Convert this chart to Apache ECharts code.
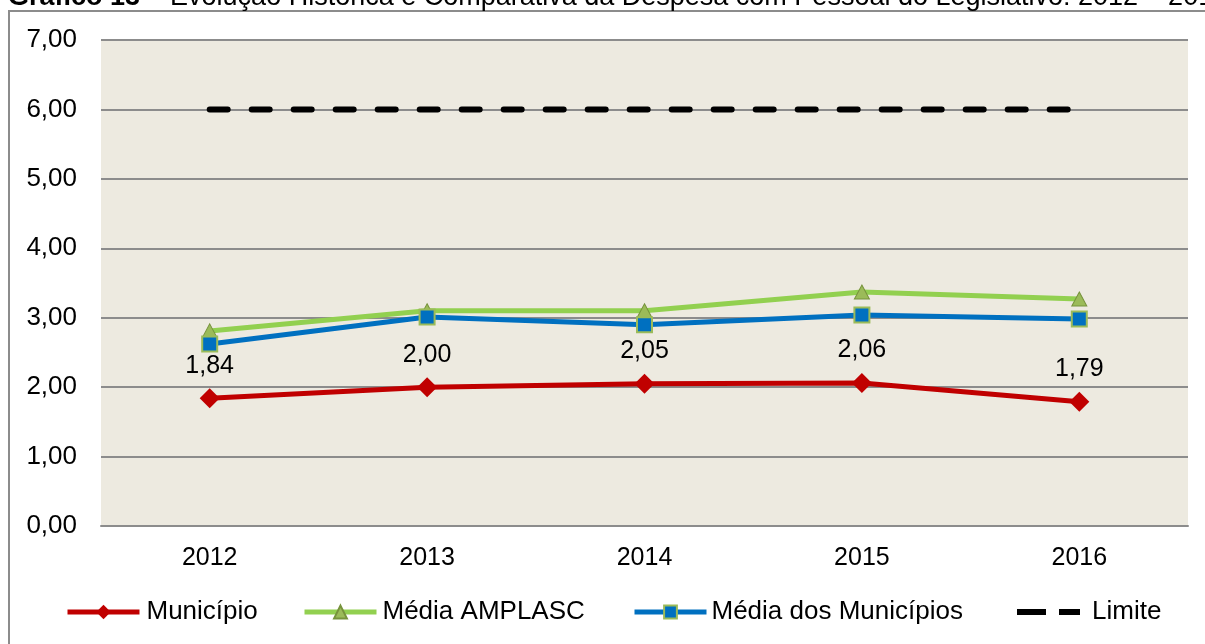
<!DOCTYPE html>
<html>
<head>
<meta charset="utf-8">
<script src="https://cdn.jsdelivr.net/npm/echarts@6/dist/echarts.min.js"></script>
<style>
html, body { margin: 0; padding: 0; background: #fff; }
#chart { width: 1205px; height: 644px; }
</style>
</head>
<body>
<div id="chart"></div>
<script>
var anos = ["2012", "2013", "2014", "2015", "2016"];
var municipio = [1.84, 2.00, 2.05, 2.06, 1.79];
var mediaAmplasc = [2.81, 3.10, 3.10, 3.37, 3.27];
var mediaMunicipios = [2.62, 3.01, 2.90, 3.04, 2.98];
var limite = [6, 6, 6, 6, 6];
var tituloNum = "Gráfico 13 – ";
var tituloTexto = "Evolução Histórica e Comparativa da Despesa com Pessoal do Legislativo: 2012 – 2016";

var fonte = "Liberation Sans, Arial, sans-serif";

function virgula(v) {
    return v.toFixed(2).replace(".", ",");
}

function legenda(item, x, altura, largura, pad) {
    return {
        data: [item],
        left: x,
        top: 599,
        padding: 0,
        itemWidth: largura,
        itemHeight: altura,
        itemGap: 0,
        lineStyle: { width: 5 },
        textStyle: { fontFamily: fonte, fontSize: 26, color: "#000", padding: [0, 0, 0, pad] },
        selectedMode: false
    };
}

var chart = echarts.init(document.getElementById("chart"));

var option = {
    backgroundColor: "#fff",
    animation: false,
    graphic: [
        {
            type: "rect",
            shape: { x: 9, y: 11, width: 1220, height: 660 },
            style: { fill: "none", stroke: "#8c8c8c", lineWidth: 2 },
            z: 0
        },
        {
            type: "text",
            left: 8,
            top: -16,
            style: {
                text: "{b|" + tituloNum + "}" + tituloTexto,
                fontFamily: fonte,
                fontSize: 27,
                fill: "#000",
                rich: { b: { fontFamily: fonte, fontSize: 27, fontWeight: "bold", fill: "#000" } }
            }
        }
    ],
    legend: [
        legenda("Município", 65, 18, 72, 2),
        legenda("Média AMPLASC", 302, 16, 72, 1),
        legenda("Média dos Municípios", 632, 16, 72, 0),
        legenda({ name: "Limite", icon: "path://M0,0h29v6h-29zM42,0h21v6h-21z" }, 1017, 6, 63, 7)
    ],
    grid: {
        left: 101,
        right: 17,
        top: 40,
        bottom: 118,
        show: true,
        backgroundColor: "#edeae0",
        borderWidth: 0
    },
    xAxis: {
        type: "category",
        data: anos,
        boundaryGap: true,
        axisLine: { lineStyle: { color: "#8c8c8c", width: 2 } },
        axisTick: { show: false },
        axisLabel: { fontFamily: fonte, fontSize: 25, color: "#000", margin: 20 }
    },
    yAxis: {
        type: "value",
        min: 0,
        max: 7,
        interval: 1,
        axisLine: { show: false },
        axisTick: { show: false },
        splitLine: { lineStyle: { color: "#8c8c8c", width: 2 } },
        axisLabel: {
            fontFamily: fonte, fontSize: 26, color: "#000", margin: 24,
            formatter: function (v) { return virgula(v); }
        }
    },
    series: [
        {
            name: "Município",
            type: "line",
            data: municipio,
            symbol: "diamond",
            symbolSize: [20, 20],
            lineStyle: { color: "#c00000", width: 5 },
            itemStyle: { color: "#c00000" },
            label: {
                show: true,
                position: "top",
                distance: 10,
                fontFamily: fonte,
                fontSize: 25,
                color: "#000",
                formatter: function (p) { return virgula(p.value); }
            },
            z: 3
        },
        {
            name: "Média AMPLASC",
            type: "line",
            data: mediaAmplasc,
            symbol: "triangle",
            symbolSize: [15, 14],
            lineStyle: { color: "#92d050", width: 5 },
            itemStyle: { color: "#9bbb59", borderColor: "#77933c", borderWidth: 1 },
            z: 3
        },
        {
            name: "Média dos Municípios",
            type: "line",
            data: mediaMunicipios,
            symbol: "rect",
            symbolSize: 15,
            lineStyle: { color: "#0070c0", width: 5 },
            itemStyle: { color: "#0070c0", borderColor: "#9bbb59", borderWidth: 2 },
            z: 4
        },
        {
            name: "Limite",
            type: "line",
            data: limite,
            symbol: "none",
            lineStyle: { color: "#000", width: 6, type: [18, 24], cap: "round" },
            itemStyle: { color: "#000" },
            z: 5
        }
    ]
};

chart.setOption(option);
</script>
</body>
</html>
